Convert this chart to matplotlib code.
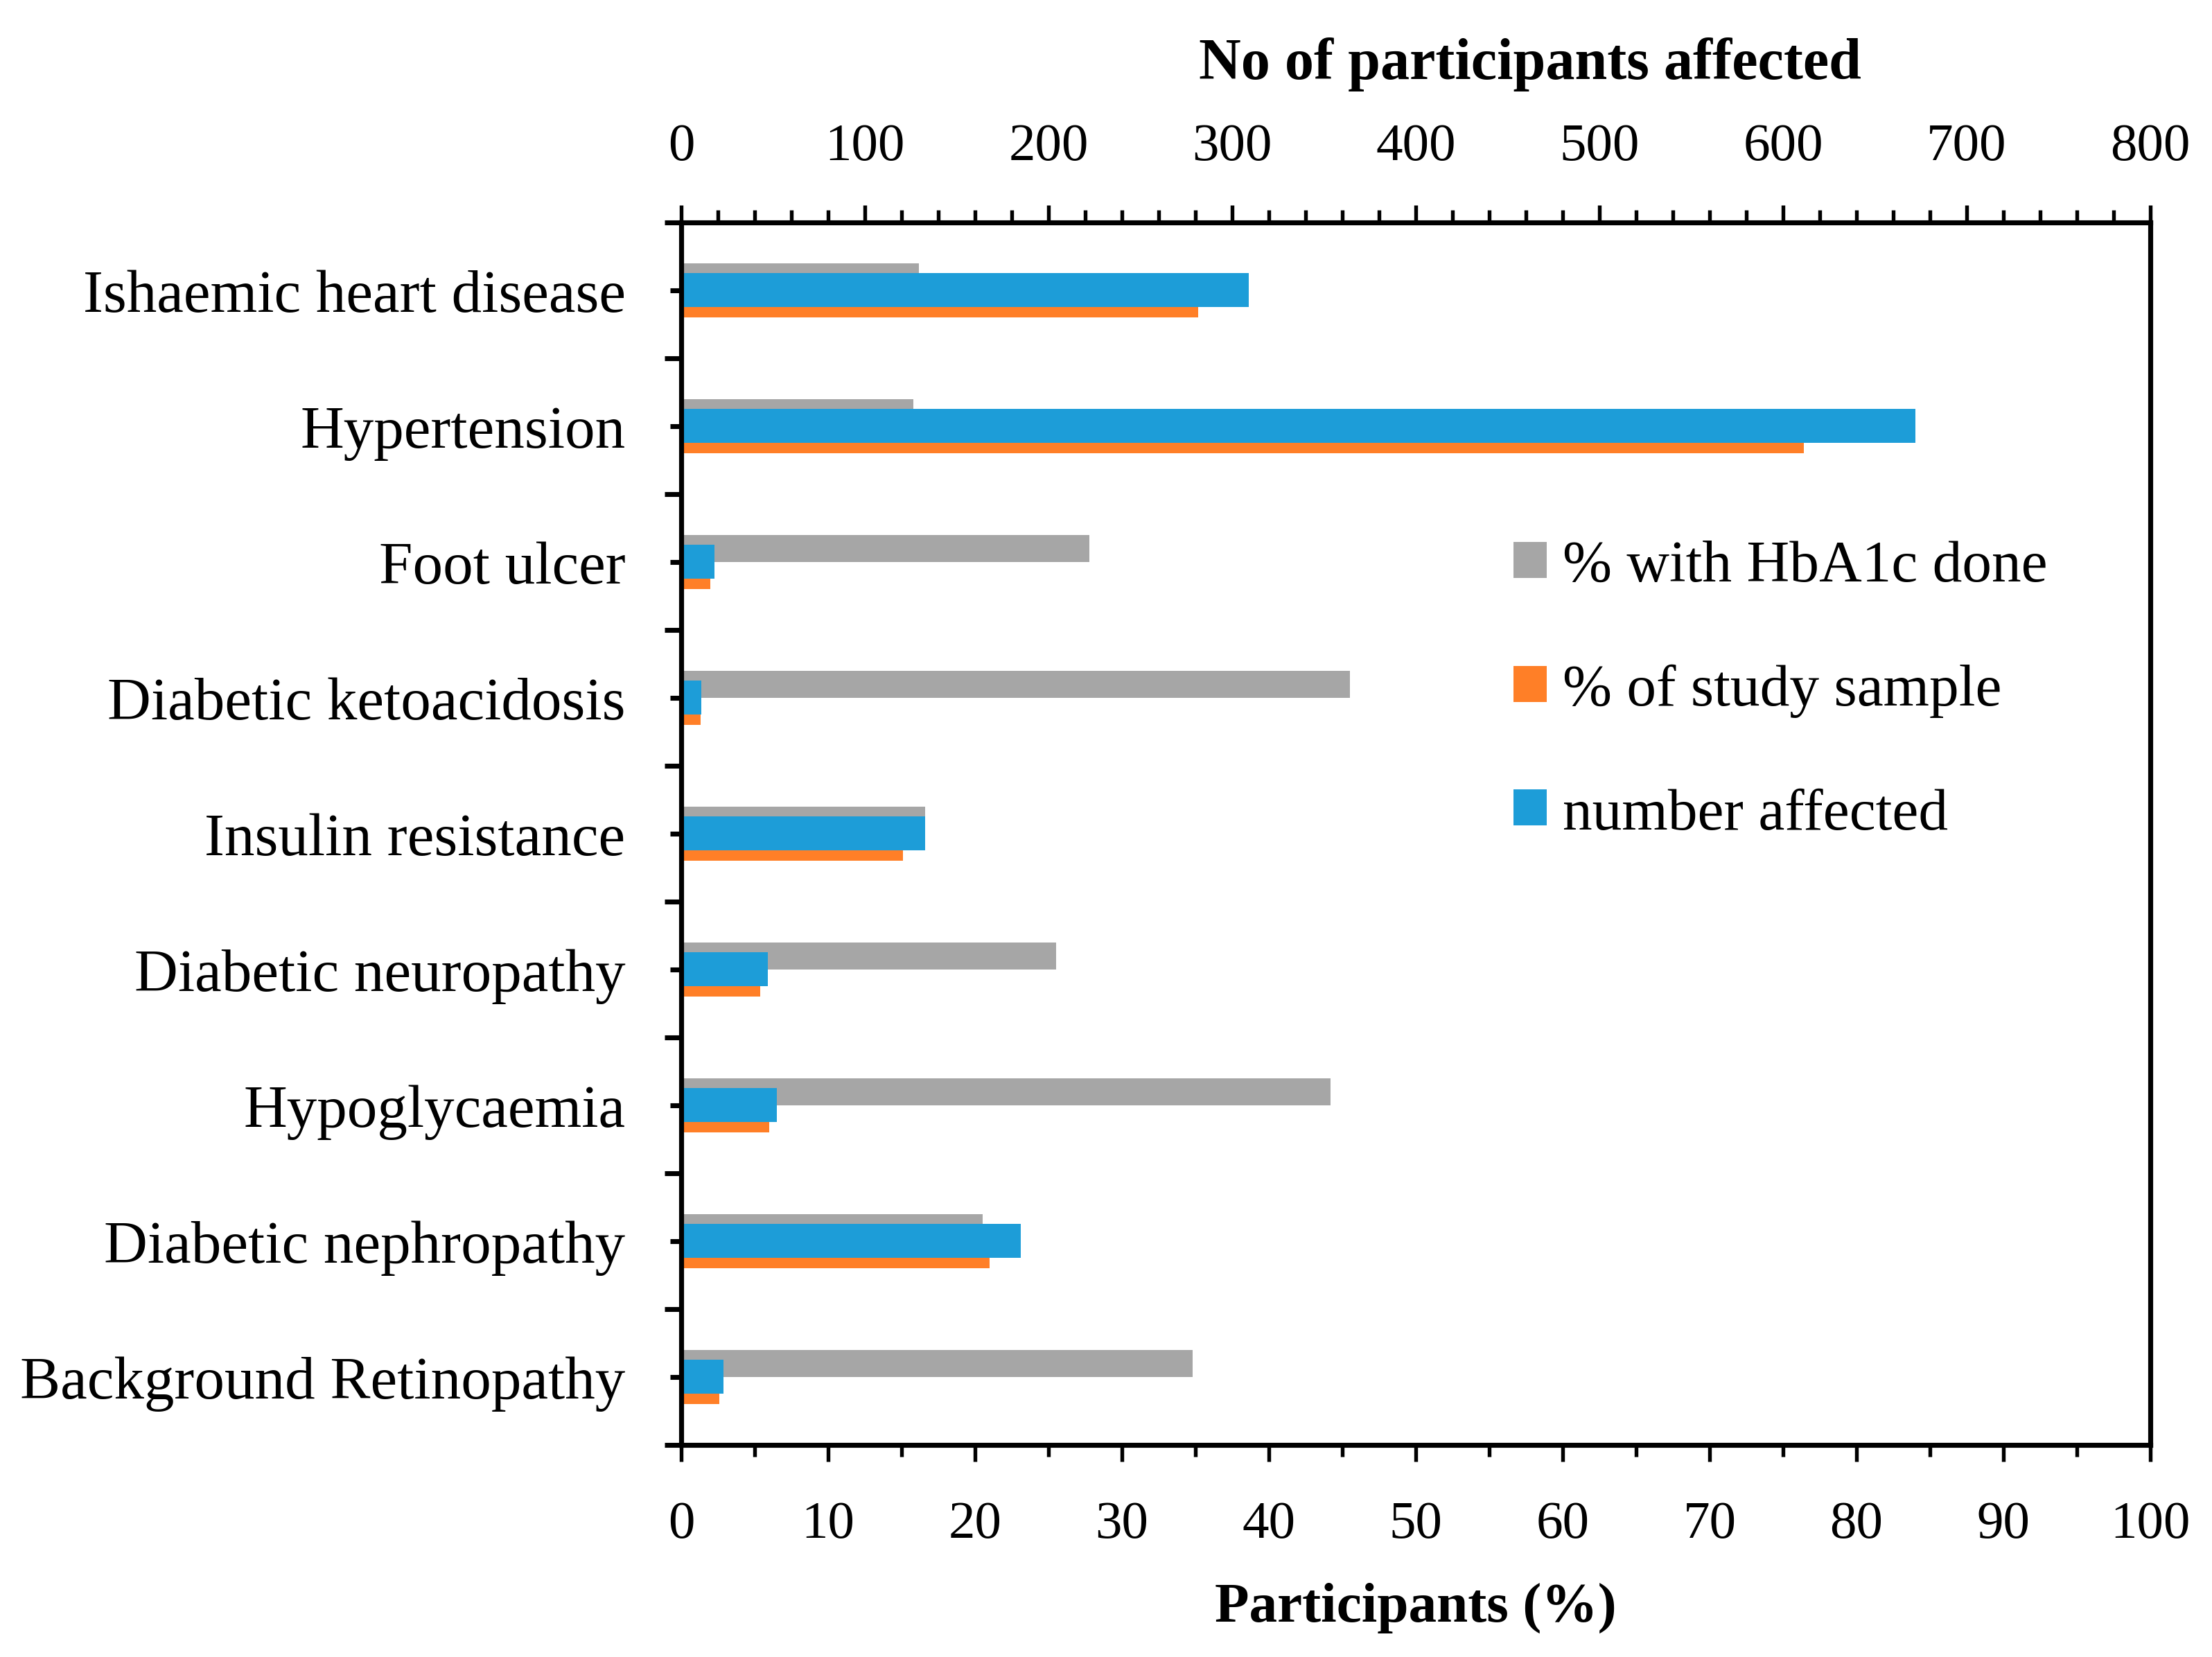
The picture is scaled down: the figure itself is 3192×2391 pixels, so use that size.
import matplotlib
matplotlib.use("Agg")
import matplotlib.pyplot as plt
from matplotlib.patches import Patch
import numpy as np

categories = [
    "Ishaemic heart disease",
    "Hypertension",
    "Foot ulcer",
    "Diabetic ketoacidosis",
    "Insulin resistance",
    "Diabetic neuropathy",
    "Hypoglycaemia",
    "Diabetic nephropathy",
    "Background Retinopathy",
]
pct_hba1c = [16.2, 15.8, 27.8, 45.5, 16.6, 25.5, 44.2, 20.5, 34.8]
pct_sample = [35.2, 76.4, 2.0, 1.3, 15.1, 5.4, 6.0, 21.0, 2.6]
n_affected = [309, 672, 18, 11, 133, 47, 52, 185, 23]

series_labels = ["% with HbA1c done", "% of study sample", "number affected"]
pct_ticks = list(range(0, 101, 10))
num_ticks = list(range(0, 801, 100))

GRAY = "#A6A6A6"
ORANGE = "#FF7F27"
BLUE = "#1D9DD8"

plt.rcParams["font.family"] = ["Liberation Serif", "DejaVu Serif"]

fig = plt.figure(figsize=(10.64, 7.9733), dpi=300)
ax = fig.add_axes([0.30796, 0.12793, 0.66416, 0.73746])

y = np.arange(len(categories))
ax.barh(y - 0.1, pct_hba1c, height=0.2, color=GRAY, linewidth=0)
ax.barh(y + 0.1, pct_sample, height=0.2, color=ORANGE, linewidth=0)
ax.set_xlim(0, 100)
ax.set_ylim(len(categories) - 0.5, -0.5)

ax2 = ax.twiny()
ax2.barh(y, n_affected, height=0.25, color=BLUE, linewidth=0)
ax2.set_xlim(0, 800)
ax2.set_ylim(len(categories) - 0.5, -0.5)

for a in (ax, ax2):
    for s in a.spines.values():
        s.set_linewidth(1.7)
        s.set_color("black")

# bottom axis (percent)
ax.set_xticks(pct_ticks)
ax.set_xticks(np.arange(0, 101, 5), minor=True)
ax.tick_params(axis="x", which="major", direction="out", length=5.8, width=1.3,
               labelsize=18.5, pad=13.5)
ax.tick_params(axis="x", which="minor", direction="out", length=4.0, width=1.3)
ax.set_xlabel("Participants (%)", fontsize=19.5, fontweight="bold")
ax.xaxis.set_label_coords(0.5, -0.112)

# y axis
ax.set_yticks(y)
ax.set_yticklabels(categories)
ax.set_yticks(np.arange(-0.5, len(categories), 1.0), minor=True)
ax.tick_params(axis="y", which="major", direction="out", length=3.8, width=1.7,
               labelsize=20.9, pad=15.5)
ax.tick_params(axis="y", which="minor", direction="out", length=5.7, width=1.7)

# top axis (number)
ax2.set_xticks(num_ticks)
ax2.set_xticks(np.arange(0, 801, 20), minor=True)
ax2.tick_params(axis="x", which="major", direction="out", length=6.0, width=1.3,
                labelsize=18.5, pad=12)
ax2.tick_params(axis="x", which="minor", direction="out", length=4.3, width=1.3)
ax2.set_xlabel("No of participants affected", fontsize=20.2, fontweight="bold")
ax2.xaxis.set_label_coords(0.578, 1.118)

handles = [Patch(facecolor=GRAY, edgecolor="none"),
           Patch(facecolor=ORANGE, edgecolor="none"),
           Patch(facecolor=BLUE, edgecolor="none")]
ax2.legend(handles, series_labels, loc="upper left",
           bbox_to_anchor=(2184 / 3192, 1 - 780 / 2392),
           bbox_transform=fig.transFigure, frameon=False,
           borderpad=0, borderaxespad=0, fontsize=20.5,
           handlelength=0.56, handleheight=0.56, handletextpad=0.27,
           labelspacing=1.19)

fig.savefig("out.png", dpi=300)
